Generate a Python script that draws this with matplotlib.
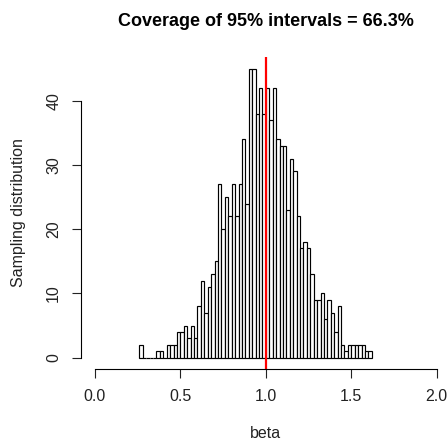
import numpy as np
import matplotlib
matplotlib.use("Agg")
import matplotlib.pyplot as plt

plt.rcParams['font.family'] = ['Liberation Sans', 'DejaVu Sans']

# histogram of simulated beta estimates, bins of width 0.02 starting at 0.26
bin_start = 0.26
bin_width = 0.02
counts = [2, 0, 0, 0, 0, 1, 1, 0, 2, 2, 2, 4, 4, 5, 3, 5, 3,
          8, 12, 7, 11, 13, 15, 27, 20, 25, 22, 27, 22, 27, 34, 24,
          45, 45, 38, 42, 38, 42, 37, 42,
          34, 33, 33, 23, 31, 29, 22, 17, 18, 17,
          13, 9, 9, 10, 6, 9, 7, 4, 8,
          2, 1, 2, 2, 2, 2, 2, 1, 1]
true_beta = 1.0
coverage = 66.3
x_ticks = [0.0, 0.5, 1.0, 1.5, 2.0]
y_ticks = [0, 10, 20, 30, 40]

lefts = bin_start + bin_width * np.arange(len(counts))

W, H = 448, 440
fig = plt.figure(figsize=(W / 100, H / 100), dpi=100)
# plot region in pixels (R style, axes extended 4%)
left_px, right_px, top_px, bot_px = 81.3, 450.4, 57.0, 369.3
ax = fig.add_axes([left_px / W, 1 - bot_px / H,
                   (right_px - left_px) / W, (bot_px - top_px) / H])

ax.bar(lefts, counts, width=bin_width, align='edge', color='white',
       edgecolor='black', linewidth=0.85)
ax.axvline(true_beta, color='red', linewidth=1.6)

ax.set_xlim(-0.08, 2.08)
ax.set_ylim(-1.8, 46.8)

for s in ['top', 'right']:
    ax.spines[s].set_visible(False)
ax.spines['bottom'].set_bounds(x_ticks[0], x_ticks[-1])
ax.spines['left'].set_bounds(y_ticks[0], y_ticks[-1])
ax.spines['bottom'].set_linewidth(0.8)
ax.spines['left'].set_linewidth(0.8)

ax.set_xticks(x_ticks)
ax.set_xticklabels(['%.1f' % v for v in x_ticks])
ax.set_yticks(y_ticks)
ax.set_yticklabels([str(v) for v in y_ticks], rotation=90, va='center')
ax.tick_params(axis='both', length=6.5, width=0.8, labelsize=11.5,
               colors='#222222', pad=8)

fig.text(265.9 / W, 1 - 22 / H, 'Coverage of 95%% intervals = %.1f%%' % coverage,
         ha='center', va='center', fontsize=13, fontweight='bold')
fig.text(265.9 / W, 1 - 433 / H, 'beta', ha='center', va='center',
         fontsize=11.5, color='#222222')
fig.text(18 / W, 1 - 213 / H, 'Sampling distribution', ha='center',
         va='center', rotation=90, fontsize=11.5, color='#222222')

fig.savefig('out.png', dpi=100)
